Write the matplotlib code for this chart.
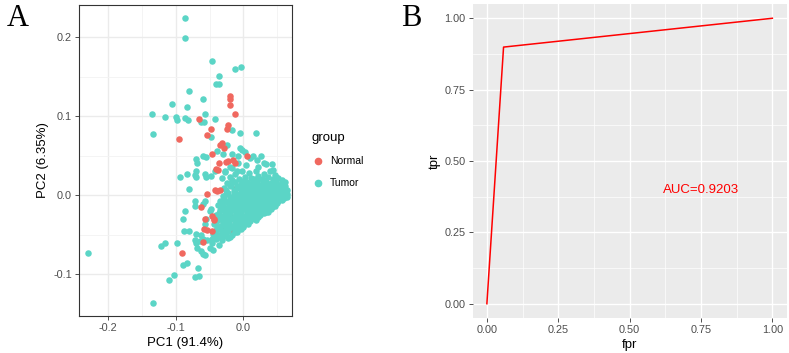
from matplotlib import pyplot as plt
from matplotlib.lines import Line2D
import numpy as np

plt.rcParams['font.family'] = ['Liberation Sans', 'DejaVu Sans']

# PCA 散点（Normal），显示在上层的点
normal_points = [
    (-0.020, 0.126), (-0.019, 0.122), (-0.020, 0.114), (-0.012, 0.103), (-0.065, 0.096),
    (-0.022, 0.089), (-0.024, 0.084), (-0.048, 0.083), (-0.054, 0.076), (-0.095, 0.071),
    (-0.032, 0.066), (-0.034, 0.064), (-0.028, 0.059), (-0.047, 0.052), (0.005, 0.050),
    (-0.036, 0.040), (-0.022, 0.043), (-0.041, 0.033), (-0.053, 0.002), (-0.039, 0.005),
    (-0.035, 0.006), (-0.062, -0.015), (-0.057, -0.030), (-0.044, -0.032), (-0.058, -0.043),
    (-0.059, -0.059), (-0.090, -0.073), (-0.025, 0.042), (-0.015, 0.044), (-0.012, 0.040),
    (-0.037, 0.032), (-0.042, 0.006), (-0.047, -0.027), (-0.044, -0.030), (-0.047, -0.046),
    (-0.054, -0.044),
]
# PCA 散点（Normal），被密集区部分遮挡的点
normal_core = [
    (-0.012, 0.008), (-0.005, -0.017), (-0.022, -0.025), (-0.020, -0.027), (-0.007, -0.036),
    (-0.027, -0.040), (0.000, -0.032), (-0.017, -0.046),
]

# PCA 散点（Tumor）：外围稀疏点
tumor_sparse = [
    (-0.086, 0.224), (-0.086, 0.199), (-0.046, 0.170), (-0.013, 0.160), (-0.003, 0.162),
    (-0.036, 0.151), (-0.040, 0.140), (-0.036, 0.140), (-0.080, 0.132), (-0.060, 0.121),
    (-0.106, 0.115), (-0.084, 0.111), (-0.135, 0.102), (-0.116, 0.099), (-0.099, 0.099),
    (-0.098, 0.095), (-0.086, 0.098), (-0.082, 0.095), (-0.056, 0.103), (-0.042, 0.096),
    (-0.062, 0.092), (-0.058, 0.093), (-0.016, 0.082), (-0.005, 0.078), (0.019, 0.078),
    (-0.133, 0.077), (-0.048, 0.074), (-0.024, 0.063), (-0.039, 0.056), (-0.030, 0.052),
    (-0.070, 0.046), (-0.059, 0.049), (-0.055, 0.048), (-0.068, 0.040), (0.015, 0.049),
    (0.026, 0.049), (0.034, 0.039), (0.043, 0.039), (0.044, 0.032), (0.049, 0.023),
    (-0.094, 0.023), (-0.084, 0.027), (-0.070, 0.030), (-0.070, 0.023), (-0.057, 0.027),
    (-0.055, 0.023), (-0.042, 0.031), (-0.048, 0.024), (-0.027, 0.031), (-0.016, 0.034),
    (-0.010, 0.030), (-0.072, 0.026), (-0.016, 0.052), (-0.005, 0.060), (-0.002, 0.057),
    (-0.008, 0.050), (0.002, 0.055), (0.010, 0.047), (0.020, 0.045), (-0.229, -0.073),
    (-0.134, -0.137), (-0.110, -0.108), (-0.102, -0.101), (-0.121, -0.065), (-0.116, -0.061),
    (-0.098, -0.061), (-0.089, -0.088), (-0.083, -0.086), (-0.067, -0.092), (-0.071, -0.104),
    (-0.066, -0.102), (-0.069, -0.067), (-0.070, -0.060), (-0.062, -0.071), (-0.059, -0.074),
    (-0.056, -0.076), (-0.050, -0.067), (-0.045, -0.069), (-0.088, -0.046), (-0.080, -0.046),
    (-0.072, -0.057), (-0.064, -0.058), (-0.089, -0.030), (-0.086, -0.020), (-0.072, -0.014),
    (-0.059, -0.011), (-0.057, -0.008), (-0.050, -0.020), (-0.048, -0.018), (-0.081, 0.008),
    (-0.072, -0.008), (-0.055, -0.030), (-0.057, -0.036), (-0.070, -0.049), (-0.059, -0.055),
    (-0.054, -0.057), (-0.047, -0.055), (-0.042, -0.051), (-0.062, -0.051), (-0.039, -0.042),
    (-0.008, 0.040), (0.004, 0.038), (0.022, 0.036), (0.030, 0.040), (-0.020, 0.036),
]

# PCA 散点（Tumor）：右下密集区
tumor_core = [
    (-0.027, 0.029), (-0.012, 0.027), (-0.002, 0.031), (0.008, 0.028), (0.019, 0.030),
    (0.030, 0.027), (0.040, 0.031), (0.047, 0.026),
    (-0.031, 0.021), (-0.019, 0.023), (-0.006, 0.020), (0.003, 0.023), (0.012, 0.021),
    (0.021, 0.024), (0.028, 0.020), (0.036, 0.023), (0.044, 0.020), (0.052, 0.022), (0.057, 0.019),
    (-0.024, 0.015), (-0.013, 0.017), (-0.004, 0.014), (0.005, 0.017), (0.013, 0.015),
    (0.020, 0.018), (0.027, 0.014), (0.034, 0.017), (0.041, 0.015), (0.048, 0.017),
    (0.055, 0.014), (0.061, 0.016),
    (-0.029, 0.009), (-0.018, 0.011), (-0.008, 0.010), (0.000, 0.008), (0.008, 0.011),
    (0.015, 0.009), (0.022, 0.012), (0.029, 0.009), (0.036, 0.011), (0.043, 0.008),
    (0.050, 0.011), (0.056, 0.009), (0.062, 0.011), (0.065, 0.007),
    (-0.023, 0.003), (-0.014, 0.005), (-0.003, 0.003), (0.004, 0.005), (0.011, 0.002),
    (0.018, 0.005), (0.025, 0.003), (0.032, 0.005), (0.039, 0.002), (0.046, 0.005),
    (0.052, 0.003), (0.058, 0.005), (0.064, 0.002),
    (-0.030, -0.001), (-0.019, -0.003), (-0.009, 0.000), (-0.001, -0.003), (0.007, -0.001),
    (0.014, -0.003), (0.021, 0.000), (0.028, -0.003), (0.035, -0.001), (0.042, -0.003),
    (0.049, 0.000), (0.055, -0.002), (0.061, -0.001),
    (-0.034, -0.007), (-0.024, -0.009), (-0.014, -0.006), (-0.006, -0.009), (0.002, -0.007),
    (0.010, -0.009), (0.017, -0.006), (0.024, -0.009), (0.031, -0.007), (0.038, -0.009),
    (0.045, -0.006), (0.051, -0.008), (0.057, -0.006),
    (-0.038, -0.013), (-0.029, -0.015), (-0.019, -0.012), (-0.011, -0.015), (-0.003, -0.013),
    (0.005, -0.015), (0.012, -0.012), (0.019, -0.015), (0.026, -0.013), (0.033, -0.015),
    (0.040, -0.012), (0.047, -0.014),
    (-0.035, -0.019), (-0.025, -0.021), (-0.016, -0.019), (-0.008, -0.021), (0.000, -0.018),
    (0.008, -0.021), (0.015, -0.019), (0.022, -0.021), (0.029, -0.018), (0.036, -0.021),
    (0.041, -0.017),
    (-0.040, -0.025), (-0.030, -0.027), (-0.022, -0.024), (-0.013, -0.027), (-0.005, -0.025),
    (0.003, -0.027), (0.010, -0.024), (0.017, -0.027), (0.024, -0.025), (0.030, -0.023),
    (-0.037, -0.031), (-0.028, -0.033), (-0.019, -0.030), (-0.011, -0.033), (-0.003, -0.031),
    (0.005, -0.033), (0.012, -0.030), (0.019, -0.032),
    (-0.043, -0.037), (-0.033, -0.039), (-0.024, -0.036), (-0.015, -0.039), (-0.008, -0.037),
    (0.000, -0.039), (0.007, -0.036),
    (-0.039, -0.043), (-0.030, -0.045), (-0.021, -0.042), (-0.012, -0.045), (-0.004, -0.043),
    (-0.045, -0.049), (-0.035, -0.051), (-0.026, -0.048), (-0.017, -0.050), (-0.009, -0.047),
    (-0.041, -0.055), (-0.032, -0.057), (-0.023, -0.054),
    (-0.046, -0.061), (-0.036, -0.063),
]

# 密集区的交错补点
tumor_core2 = [
    (-0.016, 0.019), (0.000, 0.018), (0.016, 0.020), (0.032, 0.019), (0.048, 0.020),
    (-0.019, 0.013), (-0.009, 0.012), (0.001, 0.013), (0.009, 0.012), (0.017, 0.013),
    (0.024, 0.012), (0.031, 0.013), (0.038, 0.012), (0.045, 0.013), (0.052, 0.012), (0.059, 0.013),
    (-0.025, 0.007), (-0.013, 0.006), (-0.004, 0.007), (0.004, 0.007), (0.012, 0.006),
    (0.019, 0.007), (0.026, 0.006), (0.033, 0.007), (0.040, 0.006), (0.047, 0.007),
    (0.054, 0.006), (0.060, 0.007),
    (-0.026, 0.001), (-0.014, 0.000), (-0.005, 0.001), (0.003, 0.001), (0.010, 0.000),
    (0.017, 0.001), (0.024, 0.000), (0.031, 0.001), (0.038, 0.000), (0.045, 0.001),
    (0.052, 0.000), (0.058, 0.001), (0.064, -0.002),
    (-0.028, -0.005), (-0.019, -0.006), (-0.010, -0.004), (-0.002, -0.005), (0.006, -0.004),
    (0.013, -0.005), (0.020, -0.004), (0.027, -0.005), (0.034, -0.004), (0.041, -0.005),
    (0.048, -0.004), (0.054, -0.005), (0.060, -0.004),
    (-0.031, -0.011), (-0.021, -0.010), (-0.013, -0.011), (-0.005, -0.010), (0.003, -0.011),
    (0.010, -0.010), (0.017, -0.011), (0.024, -0.010), (0.031, -0.011), (0.037, -0.010),
    (0.044, -0.011), (0.050, -0.010),
    (-0.032, -0.017), (-0.022, -0.016), (-0.014, -0.017), (-0.006, -0.016), (0.002, -0.017),
    (0.009, -0.016), (0.016, -0.017), (0.023, -0.016), (0.030, -0.017), (0.037, -0.016),
    (0.043, -0.015),
    (-0.036, -0.023), (-0.027, -0.022), (-0.019, -0.023), (-0.011, -0.022), (-0.003, -0.023),
    (0.005, -0.022), (0.012, -0.023), (0.019, -0.022), (0.026, -0.023), (0.033, -0.022),
    (-0.033, -0.029), (-0.024, -0.028), (-0.016, -0.029), (-0.008, -0.028), (0.000, -0.029),
    (0.008, -0.028), (0.015, -0.029), (0.022, -0.028),
    (-0.040, -0.034), (-0.030, -0.035), (-0.021, -0.034), (-0.013, -0.035), (-0.005, -0.034),
    (0.003, -0.035), (0.010, -0.033),
    (-0.036, -0.041), (-0.026, -0.040), (-0.017, -0.041), (-0.009, -0.040), (-0.001, -0.041),
    (-0.041, -0.046), (-0.031, -0.047), (-0.022, -0.046), (-0.013, -0.047),
    (-0.037, -0.053), (-0.028, -0.052), (-0.019, -0.053),
]

# ROC 曲线
fpr = [0.0, 0.0584, 1.0]
tpr = [0.0, 0.899, 1.0]
auc_label = 'AUC=0.9203'

c_normal = '#F0685F'
c_tumor = '#5BD5C6'
tick_c = '#4D4D4D'

fig = plt.figure(figsize=(7.89, 3.53), dpi=100)

# ---- A: PCA ----
ax1 = fig.add_axes([0.1001, 0.1048, 0.270, 0.881])
tumor = np.array(tumor_sparse + tumor_core + tumor_core2)
normal_top = np.array(normal_points)
normal_low = np.array(normal_core)
ax1.scatter(normal_low[:, 0], normal_low[:, 1], s=22, color=c_normal, linewidths=0, zorder=3)
ax1.scatter(tumor[:, 0], tumor[:, 1], s=22, color=c_tumor, linewidths=0, zorder=3)
ax1.scatter(normal_top[:, 0], normal_top[:, 1], s=22, color=c_normal, linewidths=0, zorder=3)
ax1.set_xlim(-0.243, 0.072)
ax1.set_ylim(-0.153, 0.2405)
ax1.set_xticks([-0.2, -0.1, 0.0])
ax1.set_xticklabels(['-0.2', '-0.1', '0.0'])
ax1.set_yticks([-0.1, 0.0, 0.1, 0.2])
ax1.set_yticklabels(['-0.1', '0.0', '0.1', '0.2'])
ax1.set_xticks([-0.15, -0.05, 0.05], minor=True)
ax1.set_yticks([-0.05, 0.05, 0.15], minor=True)
ax1.grid(which='major', color='#EBEBEB', lw=1.0, zorder=0)
ax1.grid(which='minor', color='#F3F3F3', lw=0.6, zorder=0)
ax1.set_axisbelow(True)
ax1.tick_params(which='major', length=3, width=0.6, color='#333333', labelsize=7.8, labelcolor=tick_c, pad=2)
ax1.tick_params(which='minor', length=0)
for sp in ax1.spines.values():
    sp.set_color('#333333')
    sp.set_linewidth(0.8)
ax1.set_xlabel('PC1 (91.4%)', fontsize=9.5, labelpad=3)
ax1.set_ylabel('PC2 (6.35%)', fontsize=9.5, labelpad=3)

# 图例
handles = [Line2D([], [], marker='o', ls='', color=c_normal, markersize=4.5, label='Normal'),
           Line2D([], [], marker='o', ls='', color=c_tumor, markersize=4.5, label='Tumor')]
leg = fig.legend(handles=handles, title='group', loc='upper left', bbox_to_anchor=(0.388, 0.64),
                 frameon=False, fontsize=7.5, title_fontsize=9.5, handletextpad=0.6,
                 labelspacing=1.15, handlelength=1.2, borderpad=0)
leg._legend_box.align = 'left'

fig.text(0.008, 0.925, 'A', fontsize=22, family='Liberation Serif')

# ---- B: ROC ----
ax2 = fig.add_axes([0.599, 0.0992, 0.398, 0.8895])
ax2.set_facecolor('#EBEBEB')
ax2.plot(fpr, tpr, color='red', lw=1.1, zorder=3)
ax2.text(0.75, 0.40, auc_label, color='red', fontsize=9.5, ha='center', va='center')
ax2.set_xlim(-0.05, 1.05)
ax2.set_ylim(-0.05, 1.05)
ticks = [0.0, 0.25, 0.5, 0.75, 1.0]
tick_txt = ['0.00', '0.25', '0.50', '0.75', '1.00']
ax2.set_xticks(ticks)
ax2.set_xticklabels(tick_txt)
ax2.set_yticks(ticks)
ax2.set_yticklabels(tick_txt)
ax2.set_xticks([0.125, 0.375, 0.625, 0.875], minor=True)
ax2.set_yticks([0.125, 0.375, 0.625, 0.875], minor=True)
ax2.grid(which='major', color='white', lw=1.0, zorder=0)
ax2.grid(which='minor', color='white', lw=0.5, zorder=0)
ax2.set_axisbelow(True)
ax2.tick_params(which='major', length=3, width=0.6, color='#333333', labelsize=7.8, labelcolor=tick_c, pad=2)
ax2.tick_params(which='minor', length=0)
for sp in ax2.spines.values():
    sp.set_visible(False)
ax2.set_xlabel('fpr', fontsize=9.5, labelpad=3)
ax2.set_ylabel('tpr', fontsize=9.5, labelpad=3)

fig.text(0.508, 0.925, 'B', fontsize=22, family='Liberation Serif')

plt.savefig('out.png', dpi=100)
plt.close()
